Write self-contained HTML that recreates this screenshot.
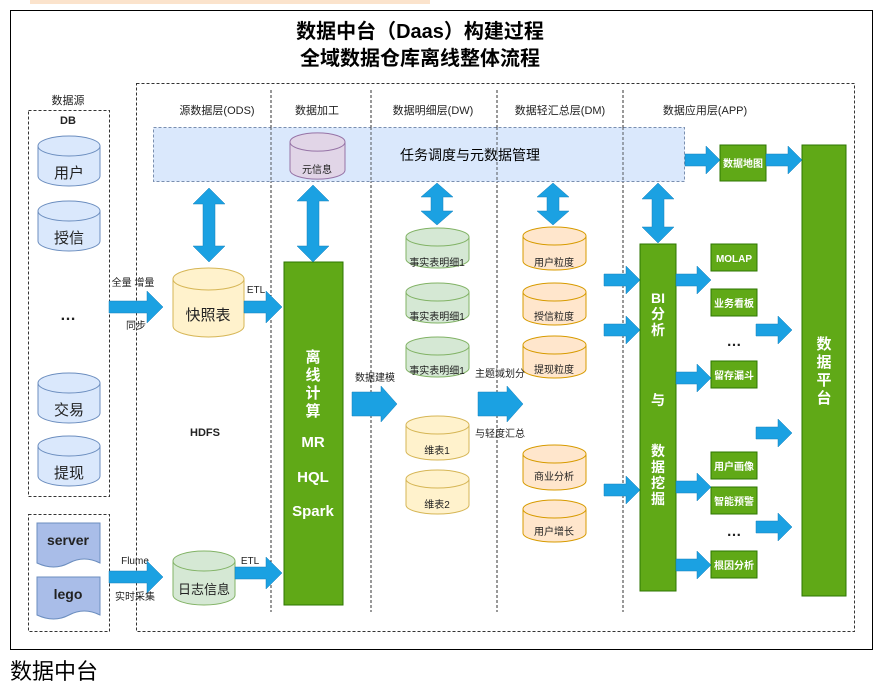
<!DOCTYPE html>
<html><head><meta charset="utf-8"><style>
body{margin:0;background:#fff;width:882px;height:690px;overflow:hidden}
svg text{font-family:"Liberation Sans","Noto Sans CJK SC",sans-serif}
</style></head><body>
<svg width="882" height="690" viewBox="0 0 882 690" xmlns="http://www.w3.org/2000/svg">
<rect x="30" y="-8" width="400" height="12" fill="#fbe3cc"/>
<rect x="10.5" y="10.5" width="862" height="639" fill="#fff" stroke="#000" stroke-width="1"/>
<text x="420" y="38" font-size="20" font-weight="bold" text-anchor="middle">数据中台（Daas）构建过程</text>
<text x="420" y="65" font-size="20" font-weight="bold" text-anchor="middle">全域数据仓库离线整体流程</text>
<text x="10" y="679" font-size="22" font-family="'Liberation Serif','Noto Serif CJK SC',serif">数据中台</text>

<g fill="none" stroke="#333" stroke-dasharray="3,2">
<rect x="136.5" y="83.5" width="718" height="548"/>
<rect x="28.5" y="110.5" width="81" height="386"/>
<rect x="28.5" y="514.5" width="81" height="117"/>
<line x1="271" y1="90" x2="271" y2="612"/>
<line x1="371" y1="90" x2="371" y2="612"/>
<line x1="497" y1="90" x2="497" y2="612"/>
<line x1="623" y1="90" x2="623" y2="612"/>
</g>
<rect x="153.5" y="127.5" width="531" height="54" fill="#dae8fc" stroke="#7a8fb0" stroke-dasharray="3,2"/>
<g fill="#333" stroke="none" opacity="0.8">
<line x1="271" y1="127" x2="271" y2="182" stroke="#333" stroke-dasharray="3,2"/>
<line x1="371" y1="127" x2="371" y2="182" stroke="#333" stroke-dasharray="3,2"/>
<line x1="497" y1="127" x2="497" y2="182" stroke="#333" stroke-dasharray="3,2"/>
<line x1="623" y1="127" x2="623" y2="182" stroke="#333" stroke-dasharray="3,2"/>
</g>

<g font-size="11" text-anchor="middle" fill="#222">
<text x="68" y="104">数据源</text>
<text x="68" y="124" font-weight="bold">DB</text>
<text x="217" y="114">源数据层(ODS)</text>
<text x="317" y="114">数据加工</text>
<text x="433" y="114">数据明细层(DW)</text>
<text x="560" y="114">数据轻汇总层(DM)</text>
<text x="705" y="114">数据应用层(APP)</text>
</g>
<text x="470" y="160" font-size="14" text-anchor="middle">任务调度与元数据管理</text>

<!-- cylinders -->
<g stroke-width="1">
<g fill="#dae8fc" stroke="#6c8ebf">
<path d="M38,146 v30 a31,10 0 0 0 62,0 v-30 a31,10 0 0 0 -62,0 a31,10 0 0 0 62,0"/>
<path d="M38,211 v30 a31,10 0 0 0 62,0 v-30 a31,10 0 0 0 -62,0 a31,10 0 0 0 62,0"/>
<path d="M38,383 v30 a31,10 0 0 0 62,0 v-30 a31,10 0 0 0 -62,0 a31,10 0 0 0 62,0"/>
<path d="M38,446 v30 a31,10 0 0 0 62,0 v-30 a31,10 0 0 0 -62,0 a31,10 0 0 0 62,0"/>
</g>
<path d="M290,142 v28 a27,9 0 0 0 55,0 v-28 a27,9 0 0 0 -55,0 a27,9 0 0 0 55,0" fill="#e1d5e7" stroke="#9673a6"/>
<path d="M173,279 v47 a35.5,11 0 0 0 71,0 v-47 a35.5,11 0 0 0 -71,0 a35.5,11 0 0 0 71,0" fill="#fff2cc" stroke="#d6b656"/>
<path d="M173,561 v34 a31,10 0 0 0 62,0 v-34 a31,10 0 0 0 -62,0 a31,10 0 0 0 62,0" fill="#d5e8d4" stroke="#82b366"/>
<g fill="#d5e8d4" stroke="#82b366">
<path d="M406,237 v22 a31.5,9 0 0 0 63,0 v-22 a31.5,9 0 0 0 -63,0 a31.5,9 0 0 0 63,0"/>
<path d="M406,292 v22 a31.5,9 0 0 0 63,0 v-22 a31.5,9 0 0 0 -63,0 a31.5,9 0 0 0 63,0"/>
<path d="M406,346 v22 a31.5,9 0 0 0 63,0 v-22 a31.5,9 0 0 0 -63,0 a31.5,9 0 0 0 63,0"/>
</g>
<g fill="#fff2cc" stroke="#d6b656">
<path d="M406,425 v26 a31.5,9 0 0 0 63,0 v-26 a31.5,9 0 0 0 -63,0 a31.5,9 0 0 0 63,0"/>
<path d="M406,479 v26 a31.5,9 0 0 0 63,0 v-26 a31.5,9 0 0 0 -63,0 a31.5,9 0 0 0 63,0"/>
</g>
<g fill="#ffe6cc" stroke="#d79b00">
<path d="M523,236 v25 a31.5,9 0 0 0 63,0 v-25 a31.5,9 0 0 0 -63,0 a31.5,9 0 0 0 63,0"/>
<path d="M523,292 v24 a31.5,9 0 0 0 63,0 v-24 a31.5,9 0 0 0 -63,0 a31.5,9 0 0 0 63,0"/>
<path d="M523,345 v24 a31.5,9 0 0 0 63,0 v-24 a31.5,9 0 0 0 -63,0 a31.5,9 0 0 0 63,0"/>
<path d="M523,454 v27 a31.5,9 0 0 0 63,0 v-27 a31.5,9 0 0 0 -63,0 a31.5,9 0 0 0 63,0"/>
<path d="M523,509 v24 a31.5,9 0 0 0 63,0 v-24 a31.5,9 0 0 0 -63,0 a31.5,9 0 0 0 63,0"/>
</g>
</g>
<!-- documents -->
<path d="M37,523 h63 v40 q-16,-8 -31,0 t-32,0 z" fill="#a9bde8" stroke="#6c8ebf"/>
<path d="M37,577 h63 v38 q-16,-8 -31,0 t-32,0 z" fill="#a9bde8" stroke="#6c8ebf"/>

<g text-anchor="middle" fill="#222">
<text x="69" y="178" font-size="15">用户</text>
<text x="69" y="243" font-size="15">授信</text>
<text x="68" y="320" font-size="16" font-weight="bold">…</text>
<text x="69" y="415" font-size="15">交易</text>
<text x="69" y="478" font-size="15">提现</text>
<text x="68" y="545" font-size="14" font-weight="bold">server</text>
<text x="68" y="599" font-size="14" font-weight="bold">lego</text>
<text x="317" y="173" font-size="10">元信息</text>
<text x="208" y="320" font-size="15">快照表</text>
<text x="204" y="594" font-size="13">日志信息</text>
<text x="205" y="436" font-size="11" font-weight="bold">HDFS</text>
<g font-size="10">
<text x="437" y="266">事实表明细1</text>
<text x="437" y="320">事实表明细1</text>
<text x="437" y="374">事实表明细1</text>
<text x="437" y="454">维表1</text>
<text x="437" y="508">维表2</text>
<text x="554" y="266">用户粒度</text>
<text x="554" y="320">授信粒度</text>
<text x="554" y="373">提现粒度</text>
<text x="554" y="480">商业分析</text>
<text x="554" y="535">用户增长</text>
<text x="133" y="286">全量 增量</text>
<text x="136" y="329">同步</text>
<text x="135" y="564">Flume</text>
<text x="135" y="600">实时采集</text>
<text x="256" y="293">ETL</text>
<text x="250" y="564">ETL</text>
<text x="375" y="381">数据建模</text>
<text x="500" y="377">主题域划分</text>
<text x="500" y="437">与轻度汇总</text>
</g>
</g>

<!-- green boxes -->
<g fill="#60a917" stroke="#2d7600">
<rect x="284" y="262" width="59" height="343"/>
<rect x="640" y="244" width="36" height="347"/>
<rect x="802" y="145" width="44" height="451"/>
<rect x="720" y="145" width="46" height="36"/>
<rect x="711" y="244" width="46" height="27"/>
<rect x="711" y="289" width="46" height="27"/>
<rect x="711" y="361" width="46" height="27"/>
<rect x="711" y="452" width="46" height="27"/>
<rect x="711" y="487" width="46" height="27"/>
<rect x="711" y="551" width="46" height="27"/>
</g>
<g fill="#fff" font-weight="bold" text-anchor="middle">
<g font-size="15"><text x="313" y="362">离</text><text x="313" y="380">线</text><text x="313" y="398">计</text><text x="313" y="416">算</text>
<text x="313" y="447">MR</text><text x="313" y="482">HQL</text><text x="313" y="516">Spark</text></g>
<g font-size="14"><text x="658" y="303">BI</text><text x="658" y="319">分</text><text x="658" y="335">析</text>
<text x="658" y="405">与</text>
<text x="658" y="456">数</text><text x="658" y="472">据</text><text x="658" y="488">挖</text><text x="658" y="504">掘</text></g>
<g font-size="15"><text x="824" y="349">数</text><text x="824" y="367">据</text><text x="824" y="385">平</text><text x="824" y="403">台</text></g>
<g font-size="10"><text x="743" y="167">数据地图</text>
<text x="734" y="262">MOLAP</text><text x="734" y="307">业务看板</text><text x="734" y="379">留存漏斗</text>
<text x="734" y="470">用户画像</text><text x="734" y="505">智能预警</text><text x="734" y="569">根因分析</text></g>
</g>
<g font-size="15" font-weight="bold" text-anchor="middle" fill="#222"><text x="734" y="346">…</text><text x="734" y="536">…</text></g>

<!-- arrows -->
<g fill="#1ba1e2" stroke="#1680bb" stroke-width="0.5">
<!-- vertical double -->
<polygon points="203,204 193,204 209,188 225,204 215,204 215,246 225,246 209,262 193,246 203,246"/>
<polygon points="307,201 297,201 313,185 329,201 319,201 319,246 329,246 313,262 297,246 307,246"/>
<polygon points="431,197 421,197 437,183 453,197 443,197 443,211 453,211 437,225 421,211 431,211"/>
<polygon points="547,197 537,197 553,183 569,197 559,197 559,211 569,211 553,225 537,211 547,211"/>
<polygon points="652,199 642,199 658,183 674,199 664,199 664,227 674,227 658,243 642,227 652,227"/>
<!-- right arrows -->
<polygon points="109,301 147,301 147,291 163,307 147,323 147,313 109,313"/>
<polygon points="244,301 266,301 266,291 282,307 266,323 266,313 244,313"/>
<polygon points="109,571 147,571 147,561 163,577 147,593 147,583 109,583"/>
<polygon points="235,567 266,567 266,557 282,573 266,589 266,579 235,579"/>
<polygon points="352,392 381,392 381,386 397,404 381,422 381,416 352,416"/>
<polygon points="478,392 507,392 507,386 523,404 507,422 507,416 478,416"/>
<polygon points="604,274 626,274 626,266 640,280 626,294 626,286 604,286"/>
<polygon points="604,324 626,324 626,316 640,330 626,344 626,336 604,336"/>
<polygon points="604,484 626,484 626,476 640,490 626,504 626,496 604,496"/>
<polygon points="676,274 697,274 697,266 711,280 697,294 697,286 676,286"/>
<polygon points="676,372 697,372 697,364 711,378 697,392 697,384 676,384"/>
<polygon points="676,481 697,481 697,473 711,487 697,501 697,493 676,493"/>
<polygon points="676,559 697,559 697,551 711,565 697,579 697,571 676,571"/>
<polygon points="685,154 706,154 706,146 720,160 706,174 706,166 685,166"/>
<polygon points="766,154 788,154 788,146 802,160 788,174 788,166 766,166"/>
<polygon points="756,324 778,324 778,316 792,330 778,344 778,336 756,336"/>
<polygon points="756,427 778,427 778,419 792,433 778,447 778,439 756,439"/>
<polygon points="756,521 778,521 778,513 792,527 778,541 778,533 756,533"/>
</g>
</svg>
</body></html>
